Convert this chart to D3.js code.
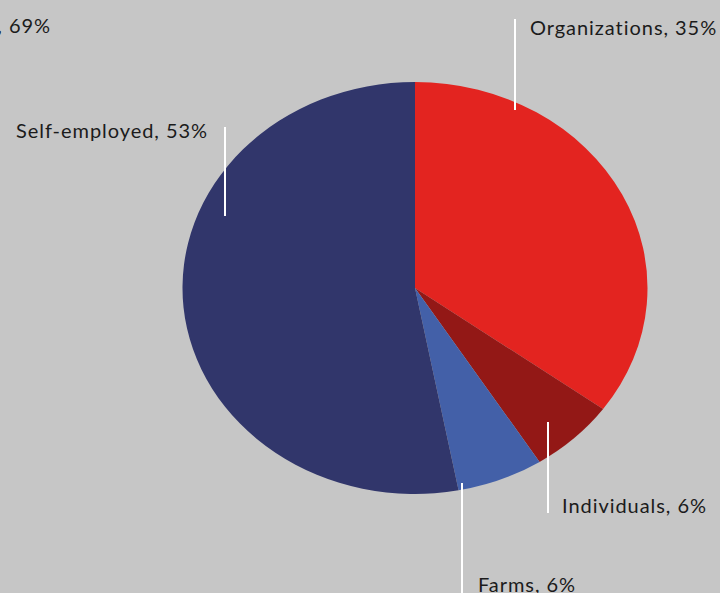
<!DOCTYPE html>
<html>
<head>
<meta charset="utf-8">
<script src="https://cdn.jsdelivr.net/npm/d3@7"></script>
<style>
  html, body { margin: 0; padding: 0; background: #c6c6c6; }
  svg { display: block; }
  text { font-family: "Lato", "Inter", sans-serif; font-size: 20px; letter-spacing: 0.95px; fill: #1b1b1b; }
</style>
</head>
<body>
<svg id="chart" width="720" height="593"></svg>
<script>
// Share of each category
const categories = ["Organizations", "Individuals", "Farms", "Self-employed"];
const values = [35, 6, 6, 53];
const colors = ["#e32420", "#931816", "#4360a8", "#31366b"];

// Label layout: text anchor point and leader line (x, y1, y2)
const labelLayout = {
  "Organizations": { tx: 530, ty: 35, anchor: "start", lx: 515, ly1: 19, ly2: 110 },
  "Individuals":   { tx: 562, ty: 513, anchor: "start", lx: 548, ly1: 422, ly2: 513 },
  "Farms":         { tx: 478, ty: 592, anchor: "start", lx: 462, ly1: 483, ly2: 593 },
  "Self-employed": { tx: 208, ty: 138, anchor: "end", lx: 225, ly1: 127, ly2: 216 }
};

const svg = d3.select("#chart");
const cx = 415, cy = 288, rx = 232.5, ry = 206;

const pie = d3.pie().sort(null).value(d => d.value);
const arcs = pie(categories.map((c, i) => ({ name: c, value: values[i], color: colors[i] })));
const arc = d3.arc().innerRadius(0).outerRadius(ry);

// Elliptical pie: draw a circle pie and stretch it horizontally
svg.append("g")
  .attr("transform", `translate(${cx},${cy}) scale(${rx / ry},1)`)
  .selectAll("path")
  .data(arcs)
  .join("path")
  .attr("d", arc)
  .attr("fill", d => d.data.color);

// Leader lines
svg.append("g")
  .selectAll("line")
  .data(categories)
  .join("line")
  .attr("x1", c => labelLayout[c].lx)
  .attr("x2", c => labelLayout[c].lx)
  .attr("y1", c => labelLayout[c].ly1)
  .attr("y2", c => labelLayout[c].ly2)
  .attr("stroke", "#ffffff")
  .attr("stroke-width", 2);

// Labels
svg.append("g")
  .selectAll("text")
  .data(categories)
  .join("text")
  .attr("x", c => labelLayout[c].tx)
  .attr("y", c => labelLayout[c].ty)
  .attr("text-anchor", c => labelLayout[c].anchor)
  .text((c, i) => `${c}, ${values[i]}%`);

// Partially visible label at the top-left edge
svg.append("text")
  .attr("x", 51)
  .attr("y", 33)
  .attr("text-anchor", "end")
  .text(", 69%");
</script>
</body>
</html>
